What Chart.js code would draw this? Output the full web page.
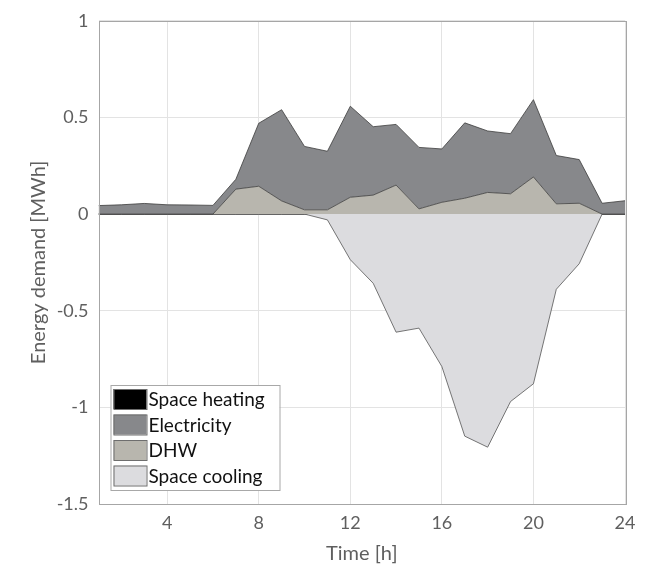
<!DOCTYPE html>
<html>
<head>
<meta charset="utf-8">
<script src="https://cdn.jsdelivr.net/npm/chart.js@4.4.1/dist/chart.umd.min.js"></script>
<style>
  html, body { margin: 0; padding: 0; background: #fff; }
  #wrap { width: 661px; height: 570px; }
</style>
</head>
<body>
<div id="wrap"><canvas id="demandChart" width="661" height="570"></canvas></div>
<script>
// Heures de la journée
const hours = [1, 2, 3, 4, 5, 6, 7, 8, 9, 10, 11, 12, 13, 14, 15, 16, 17, 18, 19, 20, 21, 22, 23, 24];

// Demande d'énergie [MWh] par usage
const spaceHeating = [0, 0, 0, 0, 0, 0, 0, 0, 0, 0, 0, 0, 0, 0, 0, 0, 0, 0, 0, 0, 0, 0, 0, 0];
const electricity = [0.044, 0.048, 0.055, 0.048, 0.047, 0.045, 0.051, 0.326, 0.472, 0.328, 0.303, 0.471,
                     0.354, 0.314, 0.318, 0.276, 0.390, 0.318, 0.311, 0.400, 0.250, 0.226, 0.056, 0.069];
const dhw = [0, 0, 0, 0, 0, 0, 0.129, 0.144, 0.068, 0.022, 0.022, 0.087,
             0.098, 0.150, 0.027, 0.061, 0.082, 0.112, 0.105, 0.192, 0.053, 0.056, 0, 0];
const spaceCooling = [0, 0, 0, 0, 0, 0, 0, 0, 0, 0, -0.03, -0.236,
                      -0.358, -0.611, -0.590, -0.789, -1.149, -1.206, -0.970, -0.878, -0.389, -0.257, 0, 0];

// Graduations
const xTicks = [4, 8, 12, 16, 20, 24];
const yTicks = [-1.5, -1, -0.5, 0, 0.5, 1];

// Ordre de la légende
const legendOrder = ['Space heating', 'Electricity', 'DHW', 'Space cooling'];

const FONT = 'Lato, "Open Sans", sans-serif';
const edge = '#3c3c3c';

function pts(values) {
    return hours.map((h, i) => ({ x: h, y: values[i] }));
}

// Légende dessinée dans la zone du graphique (coin bas gauche)
const boxLegend = {
    id: 'boxLegend',
    afterDraw(chart) {
        const c = chart.ctx;
        const area = chart.chartArea;
        const left = area.left + 12, top = 385, w = 169, rowH = 25.5;
        c.save();
        c.fillStyle = '#fff';
        c.fillRect(left, top, w, 105);
        c.strokeStyle = '#a8a8a8';
        c.lineWidth = 1;
        c.strokeRect(left + 0.5, top + 0.5, w, 105);
        c.font = '19px ' + FONT;
        c.textBaseline = 'middle';
        legendOrder.forEach((name, i) => {
            const ds = chart.data.datasets.find(d => d.label === name);
            const y = top + 4 + i * rowH;
            c.fillStyle = ds.legendColor;
            c.fillRect(left + 3, y, 33, 20);
            c.strokeStyle = '#6e6e6e';
            c.strokeRect(left + 3.5, y + 0.5, 33, 20);
            c.fillStyle = '#111';
            c.fillText(name, left + 38, y + 11);
        });
        c.restore();
    }
};

// Cadre autour des axes
const axesBox = {
    id: 'axesBox',
    afterDatasetsDraw(chart) {
        const a = chart.chartArea;
        const c = chart.ctx;
        c.save();
        c.strokeStyle = '#a6a6a6';
        c.lineWidth = 1;
        c.strokeRect(Math.round(a.left) + 0.5, Math.round(a.top) + 0.5,
                     Math.round(a.right - a.left), Math.round(a.bottom - a.top));
        c.restore();
    }
};

const ctx = document.getElementById('demandChart').getContext('2d');

new Chart(ctx, {
    type: 'line',
    data: {
        datasets: [
            {
                label: 'DHW',
                data: pts(dhw),
                stack: 'pos',
                fill: 'origin',
                backgroundColor: '#b8b6ae',
                legendColor: '#b8b6ae',
                borderColor: edge,
                borderWidth: 0.8
            },
            {
                label: 'Electricity',
                data: pts(electricity),
                stack: 'pos',
                fill: '-1',
                backgroundColor: '#87888b',
                legendColor: '#87888b',
                borderColor: edge,
                borderWidth: 0.8
            },
            {
                label: 'Space cooling',
                data: pts(spaceCooling),
                stack: 'cool',
                fill: 'origin',
                backgroundColor: '#dcdcdf',
                legendColor: '#dcdcdf',
                borderColor: '#555',
                borderWidth: 0.8
            },
            {
                label: 'Space heating',
                data: pts(spaceHeating),
                stack: 'heat',
                fill: 'origin',
                backgroundColor: '#000',
                legendColor: '#000',
                borderColor: '#222',
                borderWidth: 1
            }
        ]
    },
    options: {
        responsive: false,
        animation: false,
        elements: { point: { radius: 0 }, line: { tension: 0 } },
        layout: { padding: { top: 13, right: 36, left: 0, bottom: 0 } },
        plugins: {
            legend: { display: false },
            tooltip: { enabled: false }
        },
        scales: {
            x: {
                type: 'linear',
                min: 1,
                max: 24,
                afterBuildTicks: s => { s.ticks = xTicks.map(v => ({ value: v })); },
                afterFit: s => { s.height = 66; },
                grid: { color: '#e3e3e3', drawTicks: false },
                border: { display: false },
                ticks: { color: '#5f5f5f', font: { family: FONT, size: 18 }, padding: 8, maxRotation: 0 },
                title: { display: true, text: 'Time [h]', color: '#5f5f5f', font: { family: FONT, size: 20 }, padding: { top: 5 } }
            },
            y: {
                stacked: true,
                min: -1.5,
                max: 1,
                afterBuildTicks: s => { s.ticks = yTicks.map(v => ({ value: v })); },
                afterFit: s => { s.width = 98.5; },
                grid: { color: '#e3e3e3', drawTicks: false },
                border: { display: false },
                ticks: { color: '#5f5f5f', font: { family: FONT, size: 18 }, padding: 10, callback: v => String(v) },
                title: { display: true, text: 'Energy demand [MWh]', color: '#5f5f5f', font: { family: FONT, size: 20 }, padding: { top: 27, bottom: 0 } }
            }
        }
    },
    plugins: [axesBox, boxLegend]
});
</script>
</body>
</html>
